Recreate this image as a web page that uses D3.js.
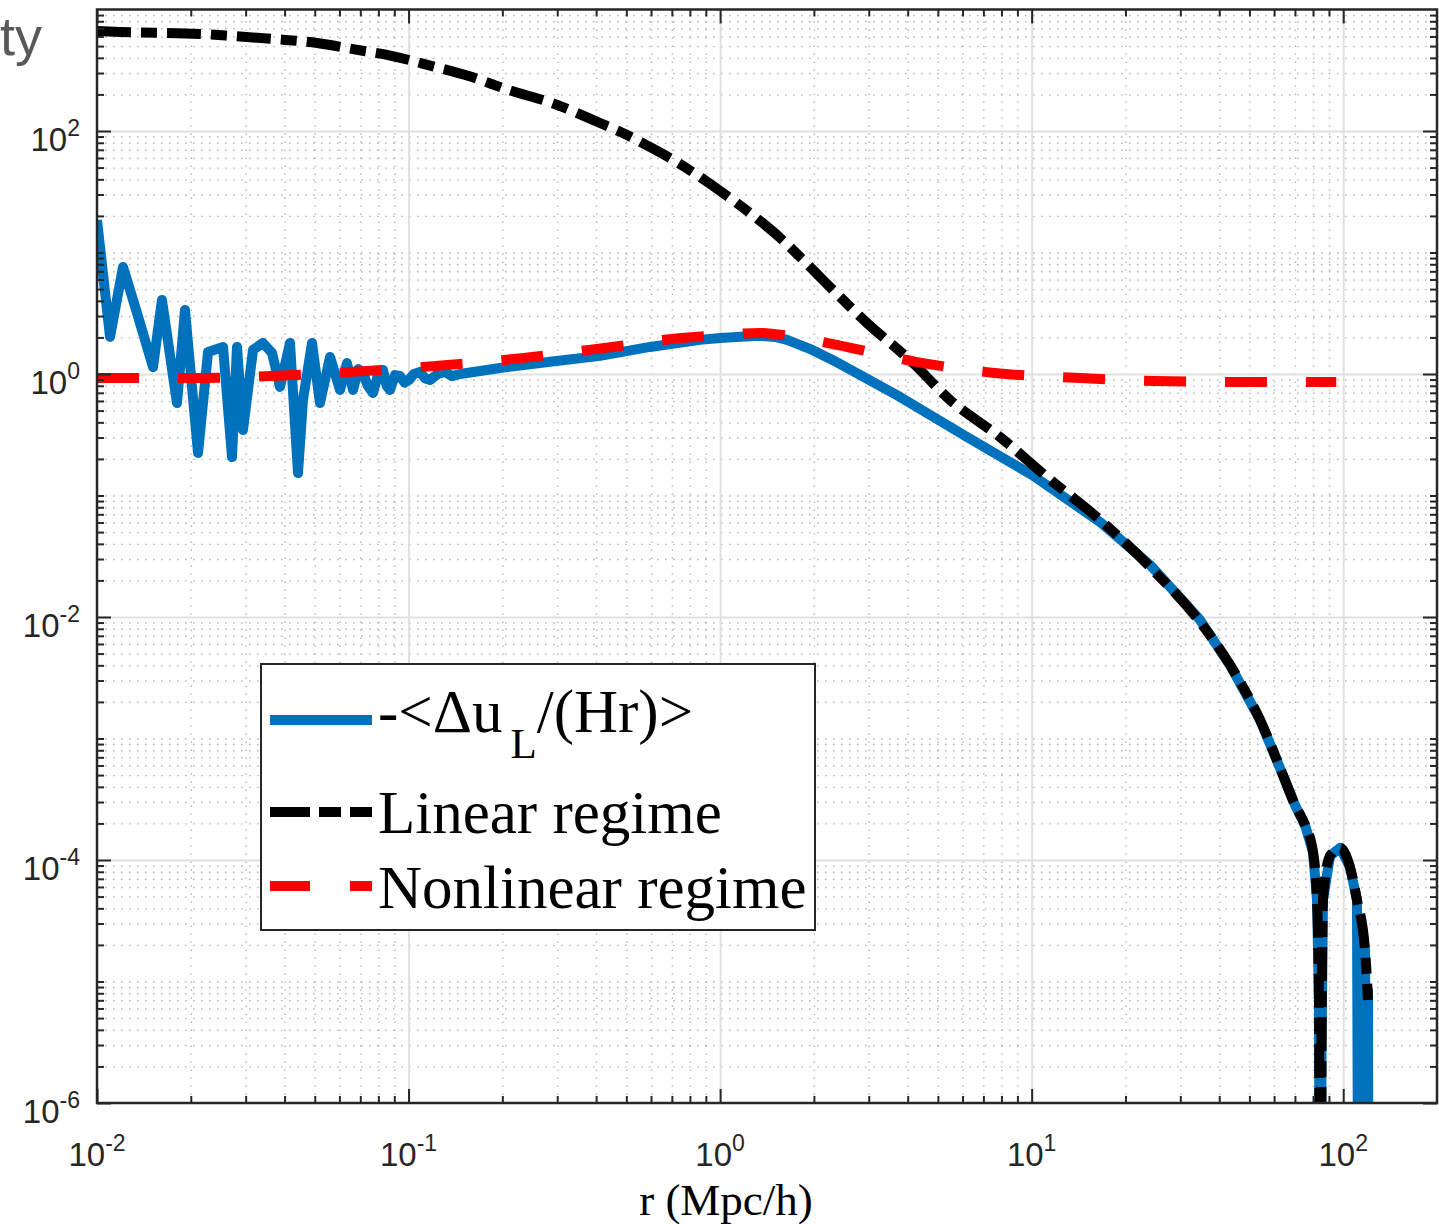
<!DOCTYPE html>
<html><head><meta charset="utf-8">
<script src="https://cdn.jsdelivr.net/npm/d3@7"></script>
<style>body{margin:0;background:#fff}</style>
</head><body>
<svg id="c" width="1439" height="1224" xmlns="http://www.w3.org/2000/svg"></svg>
<script>
// ---------- data ----------
// -<Δu_L/(Hr)>  (blue). 1e-9 marks sign changes (below the log axis)
const rVel = [0.0100,0.01101,0.01212,0.01344,0.01513,0.01616,0.01806,0.01916,0.02110,0.02272,0.02538,0.02712,0.02814,0.02942,0.03168,0.03410,0.03645,0.03867,0.04164,0.04417,0.04583,0.04898,0.05197,0.05597,0.06026,0.06345,0.06633,0.06900,0.07143,0.07400,0.07689,0.07950,0.08279,0.08500,0.08719,0.09050,0.09389,0.0970,0.1003,0.1040,0.1088,0.1130,0.1172,0.124,0.131,0.138,0.1463,
  0.1966,0.2844,0.4116,0.5957,0.8621,1.0,1.17,1.343,1.50,1.640,1.94,2.303,3.781,6.20,10.03,16.58,23.99,34.70,43.3,54.1,65.0,70.0,75.4,80.0,82.4,83.6,84.5,85.2,86.1,90.7,97.7,105.1,110.7,112.4,114.1,115.8,117.5,119.2,120.1,121.0];
const vVel = [18.5,2.02,7.60,3.18,1.14,4.07,0.577,3.36,0.224,1.52,1.67,0.207,1.67,0.346,1.58,1.80,1.49,0.782,1.80,0.153,0.611,1.80,0.577,1.38,0.739,1.23,0.739,1.10,1.02,0.80,0.698,0.95,1.08,0.80,0.739,0.98,0.963,0.85,0.893,1.00,1.04,0.92,0.893,1.00,1.04,0.96,1.0,
  1.12,1.26,1.41,1.67,1.91,1.98,2.03,2.06,2.02,1.91,1.61,1.30,0.647,0.303,0.1475,0.0605,0.0268,0.00945,4.03e-3,1.42e-3,4.55e-4,2.84e-4,1.94e-4,1.16e-4,4.69e-5,7.05e-6,1e-9,2.73e-6,4.69e-5,1.08e-4,1.26e-4,8.75e-5,4.69e-5,1e-9,2.0e-5,1e-9,1.82e-5,1e-9,8.5e-6,1e-9];

// Linear regime (black dash-dot)
const rLin = [0.0100,0.01185,0.0214,0.0276,0.0374,0.0509,0.0663,0.0888,0.119,0.157,0.210,0.2886,0.4116,0.4952,0.5957,0.7165,0.8621,1.0,1.248,1.558,1.806,2.305,2.961,4.07,5.47,7.91,11.2,16.6,24.0,34.7,43.3,54.1,65.0,70.0,75.4,80.0,82.4,83.6,84.5,85.2,86.1,90.7,97.7,105.1,110.7,117.5,120.1];
const vLin = [665,653,629,603,570,530,472,414,342,282,217,170,116.4,94.5,73.8,56.6,41.8,32.1,21.1,13.2,9.18,4.91,2.63,1.30,0.611,0.303,0.142,0.0628,0.0258,0.0091,4.03e-3,1.42e-3,4.55e-4,2.84e-4,1.94e-4,1.16e-4,4.69e-5,7.05e-6,1e-9,2.73e-6,4.69e-5,1.08e-4,1.26e-4,8.75e-5,4.69e-5,1.82e-5,7.05e-6];

// Nonlinear regime (red dashed)
const rNon = [0.01,0.02,0.05,0.1,0.2,0.45,0.75,1.0,1.35,1.7,2.39,4.25,7.6,14.3,24.9,45,95];
const vNon = [0.927,0.927,1.0,1.12,1.30,1.67,1.98,2.09,2.18,2.04,1.73,1.26,1.02,0.927,0.876,0.86,0.86];

const xMajor = [0.01,0.1,1,10,100];
const yMajor = [1e-6,1e-4,1e-2,1,1e2];
const legendLabels = ["Linear regime","Nonlinear regime"];
const xTitle = "r (Mpc/h)";

// ---------- chart ----------
const svg = d3.select("#c");
const m = {l:97, r:1437, t:9.5, b:1103};
const x = d3.scaleLog().domain([0.01,200]).range([m.l,m.r]);
const y = d3.scaleLog().domain([1e-6,1e3]).range([m.b,m.t]);

const xMinor = [], yMinor = [];
for (let d=-2; d<=2; d++) for (let k=2;k<=9;k++){ const v=k*Math.pow(10,d); if (v<200) xMinor.push(v);}
for (let d=-6; d<=2; d++) for (let k=1;k<=9;k++){ const v=k*Math.pow(10,d); if (k===1 && d%2===0) continue; if (v>1e-6 && v<1e3) yMinor.push(v);}

svg.append("rect").attr("x",m.l).attr("y",m.t).attr("width",m.r-m.l).attr("height",m.b-m.t).attr("fill","#fff");

function grid(g, ticks, vertical){
  if (vertical) g.attr("transform",`translate(0,${m.b})`).call(d3.axisBottom(x).tickValues(ticks).tickSize(-(m.b-m.t)).tickFormat(""));
  else g.attr("transform",`translate(${m.l},0)`).call(d3.axisLeft(y).tickValues(ticks).tickSize(-(m.r-m.l)).tickFormat(""));
  g.select(".domain").remove();
}
const gMinX = svg.append("g"); grid(gMinX, xMinor, true);
const gMinY = svg.append("g"); grid(gMinY, yMinor, false);
[gMinX,gMinY].forEach(g=>g.selectAll("line").attr("stroke","#b9b9b9").attr("stroke-width",1.4).attr("stroke-dasharray","1.6 6.4"));
const gMajX = svg.append("g"); grid(gMajX, xMajor.slice(1), true);
const gMajY = svg.append("g"); grid(gMajY, yMajor.slice(1), false);
[gMajX,gMajY].forEach(g=>g.selectAll("line").attr("stroke","#e0e0e0").attr("stroke-width",2));

// lines
svg.append("clipPath").attr("id","clip").append("rect").attr("x",m.l).attr("y",m.t).attr("width",m.r-m.l).attr("height",m.b-m.t);
const lineStraight = d3.line().x(d=>x(d[0])).y(d=>y(d[1]));
const lineSmooth = d3.line().x(d=>x(d[0])).y(d=>y(d[1])).curve(d3.curveMonotoneX);
const plot = svg.append("g").attr("clip-path","url(#clip)");
const series = [
  {r:rVel, v:vVel, color:"#0072BD", dash:null, gen:lineStraight},
  {r:rLin, v:vLin, color:"#000000", dash:"34 10 16 10", gen:lineSmooth},
  {r:rNon, v:vNon, color:"#FF0000", dash:"42 39", gen:lineSmooth}
];
series.forEach(s=>{
  plot.append("path").datum(s.r.map((r,i)=>[r,s.v[i]]))
    .attr("d",s.gen).attr("fill","none").attr("stroke",s.color).attr("stroke-width",10)
    .attr("stroke-linejoin","round").attr("stroke-dasharray",s.dash);
});

// axes ticks (inward, all four sides)
function styleAxis(g){ g.select(".domain").remove(); g.selectAll("line").attr("stroke","#262626").attr("stroke-width",2); }
const axes = [
  [d3.axisBottom(x), `translate(0,${m.b})`, xMajor, xMinor],
  [d3.axisTop(x), `translate(0,${m.t})`, xMajor, xMinor],
  [d3.axisLeft(y), `translate(${m.l},0)`, yMajor, yMinor],
  [d3.axisRight(y), `translate(${m.r},0)`, yMajor, yMinor]
];
axes.forEach(([ax,tr,maj,min])=>{
  svg.append("g").attr("transform",tr).call(ax.tickValues(min).tickSize(-7).tickFormat("")).call(styleAxis);
  svg.append("g").attr("transform",tr).call(ax.tickValues(maj).tickSize(-14).tickFormat("")).call(styleAxis);
});
svg.append("rect").attr("x",m.l).attr("y",m.t).attr("width",m.r-m.l).attr("height",m.b-m.t)
  .attr("fill","none").attr("stroke","#262626").attr("stroke-width",2.5);

// tick labels
function powLabel(t, d){
  const e = Math.round(Math.log10(d));
  t.append("tspan").text("10");
  t.append("tspan").attr("dy",-15).attr("font-size",23).text(String(e));
}
svg.append("g").selectAll("text").data(xMajor).join("text")
  .attr("x",d=>x(d)).attr("y",m.b+63).attr("text-anchor","middle")
  .attr("font-family","Liberation Sans, Arial, sans-serif").attr("font-size",33).attr("fill","#262626")
  .each(function(d){ powLabel(d3.select(this), d); });
svg.append("g").selectAll("text").data(yMajor).join("text")
  .attr("x",m.l-17).attr("y",d=>y(d)+20).attr("text-anchor","end")
  .attr("font-family","Liberation Sans, Arial, sans-serif").attr("font-size",33).attr("fill","#262626")
  .each(function(d){ powLabel(d3.select(this), d); });

// axis title
svg.append("text").attr("x",(x(0.01)+x(200))/2 - 41).attr("y",1215).attr("text-anchor","middle")
  .attr("font-family","Liberation Serif, Times New Roman, serif").attr("font-size",45).attr("fill","#000")
  .text(xTitle);

// stray fragment at top-left
svg.append("text").attr("x",42).attr("y",55).attr("text-anchor","end")
  .attr("font-family","Liberation Sans, Arial, sans-serif").attr("font-size",54).attr("fill","#595959").text("ty");

// legend
const lg = svg.append("g");
lg.append("rect").attr("x",261).attr("y",664).attr("width",554).attr("height",266)
  .attr("fill","#fff").attr("stroke","#262626").attr("stroke-width",2);
const rows = [720, 812, 886];
const legDash = [null, "40 9 22 9 22", "40 40 22"];
series.forEach((s,i)=>{
  lg.append("line").attr("x1",270).attr("x2",372).attr("y1",rows[i]).attr("y2",rows[i])
    .attr("stroke",s.color).attr("stroke-width",10).attr("stroke-dasharray", legDash[i]);
});
const serif = "Liberation Serif, Times New Roman, serif";
const t0 = lg.append("text").attr("x",378).attr("y",732).attr("font-family",serif).attr("font-size",61).attr("fill","#000");
t0.append("tspan").text("-<\u0394u");
t0.append("tspan").attr("dx",8).attr("dy",26).attr("font-size",43).text("L");
t0.append("tspan").attr("dy",-26).text("/(Hr)>");
lg.append("text").attr("x",378).attr("y",833).attr("font-family",serif).attr("font-size",61).attr("fill","#000").text(legendLabels[0]);
lg.append("text").attr("x",378).attr("y",908).attr("font-family",serif).attr("font-size",61).attr("fill","#000").text(legendLabels[1]);
</script>
</body></html>
